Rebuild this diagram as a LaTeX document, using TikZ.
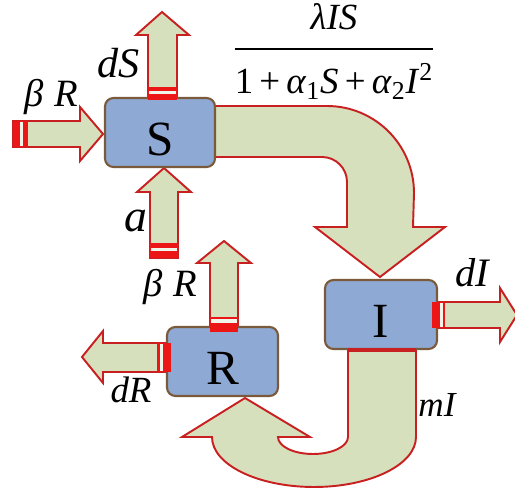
\documentclass[tikz,border=0pt]{standalone}
\usepackage{fontspec}
\setmainfont{Liberation Serif}
\usepackage{xcolor}

\definecolor{flowred}{RGB}{200,32,32}
\definecolor{tailred}{RGB}{236,22,22}
\definecolor{flowfill}{RGB}{214,224,188}
\definecolor{boxblue}{RGB}{141,169,212}
\definecolor{boxbrown}{RGB}{122,90,58}

\begin{document}
\begin{tikzpicture}[
    x=0.02cm, y=-0.02cm,
    flow/.style={draw=flowred, fill=flowfill, line width=1.1pt, line join=miter},
    tail/.style={fill=tailred},
    gap/.style={fill=flowfill!35!white},
    comp/.style={draw=boxbrown, fill=boxblue, line width=1.2pt, rounded corners=0.17cm,
        minimum width=2.2cm, minimum height=1.38cm, inner sep=0pt,
        font=\fontsize{28}{30}\selectfont, text height=0.94cm, text depth=0pt},
    lab/.style={font=\fontsize{#1}{#1}\selectfont\itshape, anchor=base, inner sep=0pt},
]
    \useasboundingbox (0,0) rectangle (515,493);

    % ---------- flows (drawn first, boxes go on top) ----------
    % S -> I, bent
    \draw[flow] (214,106) -- (327,106) arc[start angle=-90, end angle=0, radius=87]
        -- (413,227) -- (445,227) -- (380,277) -- (315,227) -- (347,227)
        -- (347,182) arc[start angle=0, end angle=-90, radius=25] -- (214,157) -- cycle;
    % I -> R, U turn
    \draw[flow] (416,349) -- (416,437)
        arc[start angle=0, end angle=180, x radius=102, y radius=50]
        -- (182,437) -- (245,398) -- (310,437) -- (278,437)
        arc[start angle=180, end angle=0, x radius=35, y radius=17] -- (348,349) -- cycle;
    % straight ones
    \draw[flow] (13,121) -- (80,121) -- (80,107) -- (103,134) -- (80,161) -- (80,147) -- (13,147) -- cycle;
    \draw[flow] (148,100) -- (148,35) -- (136,35) -- (162,12) -- (189,35) -- (177,35) -- (177,100) -- cycle;
    \draw[flow] (150,258) -- (150,192) -- (137,192) -- (164,168) -- (191,192) -- (178,192) -- (178,258) -- cycle;
    \draw[flow] (210,330) -- (210,263) -- (197,263) -- (224,241) -- (251,263) -- (238,263) -- (238,330) -- cycle;
    \draw[flow] (171,343) -- (103,343) -- (103,331) -- (82,357) -- (103,383) -- (103,372) -- (171,372) -- cycle;
    \draw[flow] (437,302) -- (500,302) -- (500,288) -- (517,315) -- (500,342) -- (500,328) -- (437,328) -- cycle;

    % ---------- compartments ----------
    \node[comp] (S) at (160,132.5) {S};
    \node[comp, minimum width=2.24cm] (I) at (381,314.5) {I};
    \node[comp, minimum width=2.22cm] (R) at (222.5,361.5) {R};
    \draw[flowred, line width=2pt] (I.south -| 348,0) -- (I.south -| 416,0);

    % ---------- striped tails ----------
    \fill[tail] (13,121) rectangle (28,147);   \fill[gap] (20,122) rectangle (23,146);
    \fill[tail] (148,87) rectangle (177,100);  \fill[gap] (149,91) rectangle (176,94);
    \fill[tail] (150,243) rectangle (178,258); \fill[gap] (151,248) rectangle (177,251);
    \fill[tail] (210,317) rectangle (238,332); \fill[gap] (211,319) rectangle (237,323);
    \fill[tail] (157,343) rectangle (171,372); \fill[gap] (160,344) rectangle (163,371);
    \fill[tail] (432,302) rectangle (445,328); \fill[gap] (440,303) rectangle (443,327);

    % ---------- rates ----------
    \node[lab=24] (dS)  at (119,78)  {dS};
    \node[lab=22] (bRS) at (51,107)  {β\;R};
    \node[lab=26] (a)   at (136,232) {a};
    \node[lab=22] (bRR) at (170,297) {β\;R};
    \node[lab=21] (dR)  at (131,403) {dR};
    \node[lab=23] (dI)  at (472,287) {dI};
    \node[lab=20] (mI)  at (437,417) {mI};
    \node[font=\fontsize{21}{24}\selectfont, inner sep=0pt, anchor=north] (inc) at (334,0)
        {\setlength{\arrayrulewidth}{1.2pt}\begin{tabular}{@{}c@{}}
            \textit{λIS}\\[3pt]\hline
            \rule{0pt}{25pt}1\,+\,\textit{α}\textsubscript{1}\textit{S}\,+\,\textit{α}\textsubscript{2}\textit{I}\textsuperscript{2}
        \end{tabular}};
\end{tikzpicture}
\end{document}
